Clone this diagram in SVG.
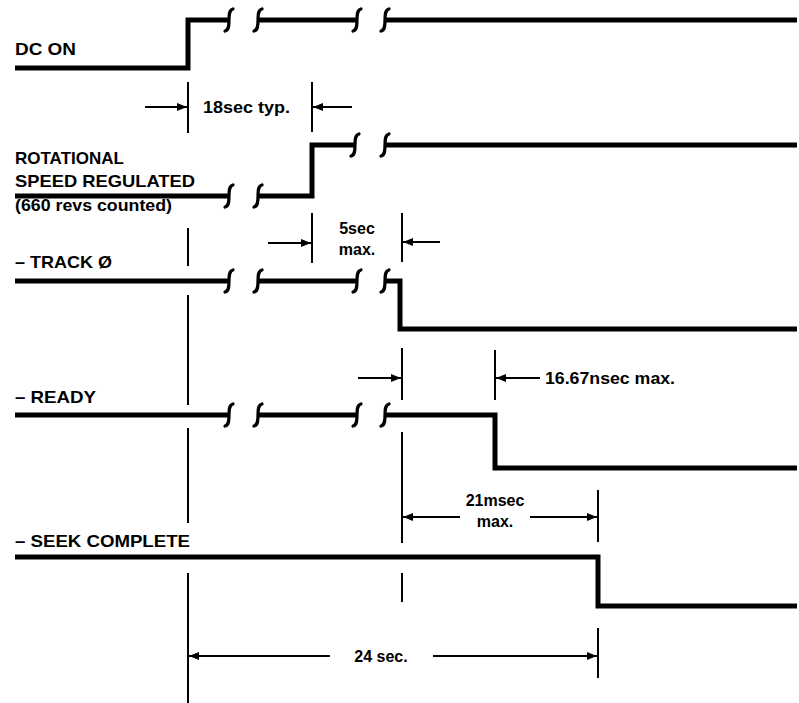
<svg xmlns="http://www.w3.org/2000/svg" xmlns:xlink="http://www.w3.org/1999/xlink" width="799" height="703" viewBox="0 0 799 703">
<style>
.sig{fill:none;stroke:#000;stroke-width:5;stroke-linejoin:miter;stroke-linecap:butt}
.ref{fill:none;stroke:#000;stroke-width:2}
.dim{fill:none;stroke:#000;stroke-width:1.8;marker-end:url(#ah)}
.brk{fill:none;stroke:#000;stroke-width:3.2;stroke-linecap:round}
.lbl{font-family:"Liberation Sans",Arial,sans-serif;font-weight:bold;font-size:17px;fill:#000}
.dt{font-family:"Liberation Sans",Arial,sans-serif;font-weight:bold;font-size:16px;fill:#000}
</style>
<defs>
<marker id="ah" viewBox="0 0 10 8" refX="10" refY="4" markerWidth="10" markerHeight="8" markerUnits="userSpaceOnUse" orient="auto">
<path d="M0,0 L10,4 L0,8 Z" fill="#000"/>
</marker>
<path id="brk" class="brk" d="M4,-11 C0,-10 0,-5 0,0 C0,5 0,10 -4,11"/>
</defs>
<rect width="799" height="703" fill="#fff"/>

<g id="connectors">
<path class="ref" d="M188,82 V133 M188,228 V266 M188,295 V405 M188,428 V523 M188,573 V703"/>
<path class="ref" d="M312,82 V132 M312,213 V263"/>
<path class="ref" d="M402,213 V262 M402,348 V400 M402,432 V543 M402,573 V602"/>
<path class="ref" d="M495,350 V400"/>
<path class="ref" d="M598,490 V542 M598,628 V678"/>
<line class="dim" x1="145" y1="107" x2="187" y2="107"/>
<line class="dim" x1="352" y1="107" x2="313" y2="107"/>
<line class="dim" x1="268" y1="243" x2="311" y2="243"/>
<line class="dim" x1="440" y1="242" x2="403" y2="242"/>
<line class="dim" x1="358" y1="378" x2="401" y2="378"/>
<line class="dim" x1="540" y1="378" x2="496" y2="378"/>
<line class="dim" x1="460" y1="517" x2="403" y2="517"/>
<line class="dim" x1="530" y1="517" x2="597" y2="517"/>
<line class="dim" x1="330" y1="656" x2="189" y2="656"/>
<line class="dim" x1="433" y1="656" x2="597" y2="656"/>
</g>

<g id="dc-on">
<text class="lbl" x="15" y="55" textLength="61" lengthAdjust="spacingAndGlyphs">DC ON</text>
<path class="sig" d="M15,68 H188 V20 H229 M258,20 H357 M385,20 H797"/>
<use xlink:href="#brk" x="229" y="20"/><use xlink:href="#brk" x="258" y="20"/>
<use xlink:href="#brk" x="357" y="20"/><use xlink:href="#brk" x="385" y="20"/>
</g>

<g id="t18">
<text class="dt" x="203" y="113" textLength="87" lengthAdjust="spacingAndGlyphs">18sec typ.</text>
</g>

<g id="rotational">
<text class="lbl" x="15" y="164">ROTATIONAL</text>
<text class="lbl" x="15" y="187" textLength="180" lengthAdjust="spacingAndGlyphs">SPEED REGULATED</text>
<text class="lbl" x="15" y="211" textLength="157" lengthAdjust="spacingAndGlyphs">(660 revs counted)</text>
<path class="sig" d="M15,196 H229 M258,196 H312 V145 H355 M385,145 H797"/>
<use xlink:href="#brk" x="229" y="196"/><use xlink:href="#brk" x="258" y="196"/>
<use xlink:href="#brk" x="355" y="145"/><use xlink:href="#brk" x="385" y="145"/>
</g>

<g id="t5">
<text class="dt" x="357" y="234" text-anchor="middle">5sec</text>
<text class="dt" x="357" y="255" text-anchor="middle">max.</text>
</g>

<g id="track0">
<text class="lbl" x="15" y="268" textLength="97" lengthAdjust="spacingAndGlyphs">– TRACK Ø</text>
<path class="sig" d="M15,281 H229 M258,281 H357 M385,281 H400 V329 H797"/>
<use xlink:href="#brk" x="229" y="281"/><use xlink:href="#brk" x="258" y="281"/>
<use xlink:href="#brk" x="357" y="281"/><use xlink:href="#brk" x="385" y="281"/>
</g>

<g id="t1667">
<text class="dt" x="545" y="384" textLength="130" lengthAdjust="spacingAndGlyphs">16.67nsec max.</text>
</g>

<g id="ready">
<text class="lbl" x="15" y="403" textLength="81" lengthAdjust="spacingAndGlyphs">– READY</text>
<path class="sig" d="M15,415 H229 M258,415 H357 M385,415 H495 V468 H797"/>
<use xlink:href="#brk" x="229" y="415"/><use xlink:href="#brk" x="258" y="415"/>
<use xlink:href="#brk" x="357" y="415"/><use xlink:href="#brk" x="385" y="415"/>
</g>

<g id="t21">
<text class="dt" x="495" y="506" text-anchor="middle">21msec</text>
<text class="dt" x="495" y="527" text-anchor="middle">max.</text>
</g>

<g id="seek-complete">
<text class="lbl" x="15" y="547" textLength="175" lengthAdjust="spacingAndGlyphs">– SEEK COMPLETE</text>
<path class="sig" d="M15,557 H598 V606 H797"/>
</g>

<g id="t24">
<text class="dt" x="381" y="662" text-anchor="middle">24 sec.</text>
</g>
</svg>
